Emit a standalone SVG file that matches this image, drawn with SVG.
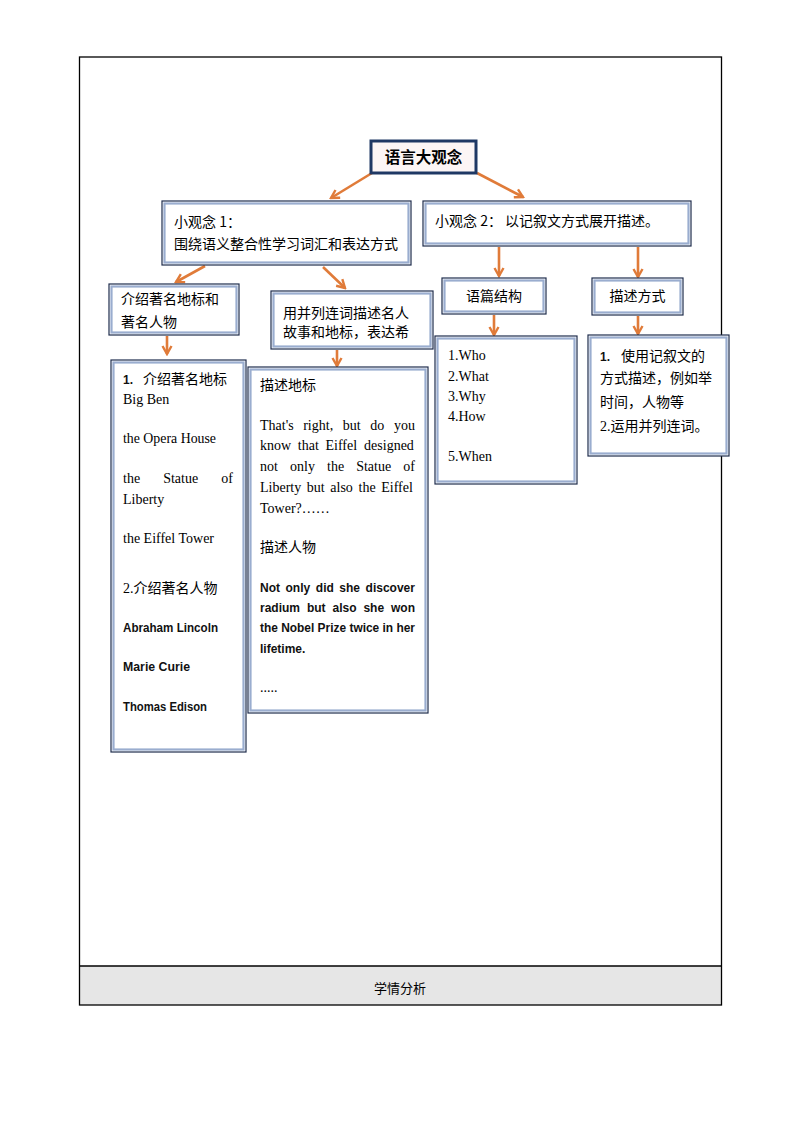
<svg xmlns="http://www.w3.org/2000/svg" width="794" height="1123" viewBox="0 0 794 1123">
<defs>
<style>
.frame{fill:none;stroke:#000;stroke-width:1.3}
.bo{fill:#fff;stroke:#1f2d4e;stroke-width:1.2}
.bi{fill:none;stroke:#9aadcf;stroke-width:2.2}
.ttl{fill:#fcf5f5;stroke:#1f3864;stroke-width:3}
.cn{font-family:"Noto Sans CJK SC","Noto Sans",sans-serif;font-size:14px;fill:#000}
.sr{font-family:"Liberation Serif","Noto Sans CJK SC",serif;font-size:14px;fill:#000}
.bd{font-family:"Liberation Sans","Noto Sans CJK SC",sans-serif;font-size:12px;font-weight:bold;fill:#111}
.conn{stroke:#e07b39;stroke-width:2.6;fill:none;marker-end:url(#ah)}
</style>
<marker id="ah" viewBox="0 0 12 12" refX="10" refY="6" markerWidth="12" markerHeight="12" markerUnits="userSpaceOnUse" orient="auto">
<path d="M2,1.5 L10,6 L2,10.5" fill="none" stroke="#e07b39" stroke-width="2.4"/>
</marker>
</defs>
<rect width="794" height="1123" fill="#fff"/>
<g id="frame">
<rect x="79.5" y="966" width="642" height="39" fill="#e6e6e6"/>
<rect class="frame" x="79.5" y="57" width="642" height="948"/>
<line x1="79.5" y1="966" x2="721.5" y2="966" stroke="#000" stroke-width="1.3"/>
<text x="400" y="993" text-anchor="middle" font-family="Noto Sans CJK SC,sans-serif" font-size="13" fill="#000">学情分析</text>
</g>
<g id="connectors">
<line class="conn" x1="372" y1="173" x2="331" y2="198"/>
<line class="conn" x1="477" y1="173" x2="523" y2="197"/>
<line class="conn" x1="205" y1="266" x2="176" y2="282"/>
<line class="conn" x1="323" y1="267" x2="345" y2="288"/>
<line class="conn" x1="167" y1="336" x2="167" y2="354"/>
<line class="conn" x1="337" y1="350" x2="337" y2="366"/>
<line class="conn" x1="499" y1="247" x2="499" y2="276"/>
<line class="conn" x1="638" y1="247" x2="638" y2="277"/>
<line class="conn" x1="494" y1="315" x2="494" y2="335"/>
<line class="conn" x1="638" y1="316" x2="638" y2="334"/>
</g>
<g id="n-title">
<rect class="ttl" x="371" y="141" width="105" height="32"/>
<text x="423.5" y="163" text-anchor="middle" font-family="Noto Sans CJK SC,sans-serif" font-size="15.5" font-weight="bold" fill="#000">语言大观念</text>
</g>
<g id="n-idea1">
<rect class="bo" x="162" y="201" width="249" height="64"/>
<rect class="bi" x="164.5" y="203.5" width="244" height="59"/>
<text class="cn" x="174" y="227">小观念 1：</text>
<text class="cn" x="174" y="249">围绕语义整合性学习词汇和表达方式</text>
</g>
<g id="n-idea2">
<rect class="bo" x="423" y="201" width="268" height="45"/>
<rect class="bi" x="425.5" y="203.5" width="263" height="40"/>
<text class="cn" x="435" y="226">小观念 2： 以记叙文方式展开描述。</text>
</g>
<g id="n-landmarks">
<rect class="bo" x="109" y="284" width="130" height="51"/>
<rect class="bi" x="111.5" y="286.5" width="125" height="46"/>
<text class="cn" x="121" y="304">介绍著名地标和</text>
<text class="cn" x="121" y="327">著名人物</text>
</g>
<g id="n-parallel">
<rect class="bo" x="271" y="291" width="162" height="58"/>
<rect class="bi" x="273.5" y="293.5" width="157" height="53"/>
<text class="cn" x="283" y="318">用并列连词描述名人</text>
<text class="cn" x="283" y="337">故事和地标，表达希</text>
</g>
<g id="n-structure">
<rect class="bo" x="442" y="278" width="104" height="36"/>
<rect class="bi" x="444.5" y="280.5" width="99" height="31"/>
<text class="cn" x="494" y="301" text-anchor="middle">语篇结构</text>
</g>
<g id="n-method">
<rect class="bo" x="592" y="278" width="91" height="37"/>
<rect class="bi" x="594.5" y="280.5" width="86" height="32"/>
<text class="cn" x="637.5" y="301" text-anchor="middle">描述方式</text>
</g>
<g id="n-list">
<rect class="bo" x="111" y="360" width="135" height="392"/>
<rect class="bi" x="113.5" y="362.5" width="130" height="387"/>
<text x="123" y="384"><tspan class="bd" font-size="12.5">1.</tspan><tspan class="cn" x="143">介绍著名地标</tspan></text>
<text class="sr" x="123" y="404">Big Ben</text>
<text class="sr" x="123" y="443" textLength="93" lengthAdjust="spacingAndGlyphs">the Opera House</text>
<text class="sr" y="483"><tspan x="123">the</tspan><tspan x="163.2">Statue</tspan><tspan x="221.3">of</tspan></text>
<text class="sr" x="123" y="504">Liberty</text>
<text class="sr" x="123" y="543">the Eiffel Tower</text>
<text x="123" y="593"><tspan class="sr">2.</tspan><tspan class="cn">介绍著名人物</tspan></text>
<text class="bd" x="123" y="632" textLength="95" lengthAdjust="spacingAndGlyphs">Abraham Lincoln</text>
<text class="bd" x="123" y="671" textLength="67" lengthAdjust="spacingAndGlyphs">Marie Curie</text>
<text class="bd" x="123" y="711" textLength="84" lengthAdjust="spacingAndGlyphs">Thomas Edison</text>
</g>
<g id="n-describe">
<rect class="bo" x="248" y="367" width="180" height="346"/>
<rect class="bi" x="250.5" y="369.5" width="175" height="341"/>
<text class="cn" x="260" y="390">描述地标</text>
<text class="sr" y="430"><tspan x="260">That's</tspan><tspan x="303.2">right,</tspan><tspan x="342.8">but</tspan><tspan x="370.3">do</tspan><tspan x="394">you</tspan></text>
<text class="sr" y="450"><tspan x="260">know</tspan><tspan x="297.8">that</tspan><tspan x="325.5">Eiffel</tspan><tspan x="364.1">designed</tspan></text>
<text class="sr" y="471"><tspan x="260">not</tspan><tspan x="290">only</tspan><tspan x="327">the</tspan><tspan x="356.2">Statue</tspan><tspan x="403.3">of</tspan></text>
<text class="sr" y="492"><tspan x="260">Liberty</tspan><tspan x="306.8">but</tspan><tspan x="330.3">also</tspan><tspan x="358.5">the</tspan><tspan x="381.2">Eiffel</tspan></text>
<text class="sr" x="260" y="513">Tower?……</text>
<text class="cn" x="260" y="552">描述人物</text>
<text class="bd" y="592"><tspan x="260">Not</tspan><tspan x="285.5">only</tspan><tspan x="315.8">did</tspan><tspan x="339.3">she</tspan><tspan x="365.6">discover</tspan></text>
<text class="bd" y="612"><tspan x="260">radium</tspan><tspan x="306.9">but</tspan><tspan x="332.5">also</tspan><tspan x="363.4">she</tspan><tspan x="391">won</tspan></text>
<text class="bd" x="260" y="632" textLength="155" lengthAdjust="spacingAndGlyphs">the Nobel Prize twice in her</text>
<text class="bd" x="260" y="653">lifetime.</text>
<text class="sr" x="260" y="692" font-size="11">.....</text>
</g>
<g id="n-wh">
<rect class="bo" x="435" y="336" width="142" height="148"/>
<rect class="bi" x="437.5" y="338.5" width="137" height="143"/>
<text class="sr" x="448" y="360">1.Who</text>
<text class="sr" x="448" y="381">2.What</text>
<text class="sr" x="448" y="401">3.Why</text>
<text class="sr" x="448" y="421">4.How</text>
<text class="sr" x="448" y="461">5.When</text>
</g>
<g id="n-method-detail">
<rect class="bo" x="588" y="335" width="141" height="121"/>
<rect class="bi" x="590.5" y="337.5" width="136" height="116"/>
<text x="600" y="361"><tspan class="bd" font-size="12.5">1.</tspan><tspan class="cn" x="621">使用记叙文的</tspan></text>
<text class="cn" x="600" y="383">方式描述，例如举</text>
<text class="cn" x="600" y="407">时间，人物等</text>
<text x="600" y="431"><tspan class="sr">2.</tspan><tspan class="cn">运用并列连词。</tspan></text>
</g>
</svg>
